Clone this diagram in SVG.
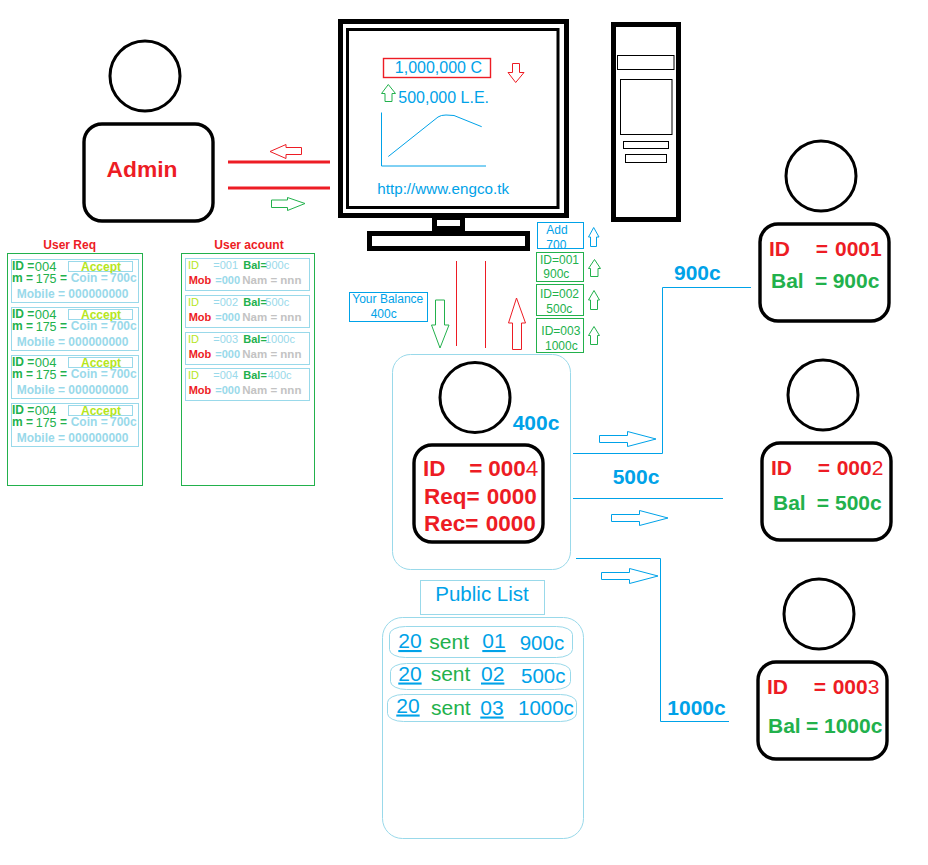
<svg xmlns="http://www.w3.org/2000/svg" width="928" height="865" viewBox="0 0 928 865">
<style>
text{font-family:"Liberation Sans",Arial,sans-serif;white-space:pre}
.b{font-weight:700}.n{font-weight:400}
.red{fill:#ed1c24}.grn{fill:#22b14c}.blu{fill:#00a2e8}.lbl{fill:#99d9ea}.lim{fill:#b5e61d}.gry{fill:#c3c3c3}
.f11{font-size:11px}.f12{font-size:12px}.f16{font-size:16px}.f21{font-size:21px}.f22{font-size:22.5px}.u{text-decoration:underline}
.head{fill:#fff;stroke:#000;stroke-width:3}
.body{fill:#fff;stroke:#000;stroke-width:3.4}
.k5{fill:#fff;stroke:#000;stroke-width:5}
.k1{fill:#fff;stroke:#000;stroke-width:1}
.box{fill:none;stroke-width:1}
.sl{stroke:#99d9ea}.sg{stroke:#22b14c}.sb{stroke:#00a2e8}.sr{stroke:#ed1c24}
.ar{fill:#fff;stroke-width:1}
.ln{fill:none;stroke:#00a2e8;stroke-width:1}
.rl{fill:none;stroke:#ed1c24}
</style>
<rect width="928" height="865" fill="#fff"/>

<g id="admin">
<circle class="head" cx="145" cy="76" r="35"/>
<rect class="body" x="84" y="124" width="129" height="97" rx="18"/>
<text class="b red" style="font-size:22.8px" x="106.5" y="176.5">Admin</text>
</g>

<g id="monitor">
<rect class="k5" x="340.5" y="21.5" width="226" height="194"/>
<rect class="k5" style="stroke-width:3" x="347.5" y="29.5" width="210.5" height="178"/>
<rect x="432" y="218" width="33" height="14" fill="#000"/>
<rect x="437" y="220" width="23" height="6" fill="#fff"/>
<rect class="k5" x="369.5" y="233.5" width="158" height="15"/>
<rect class="box sr" style="stroke-width:1.4" x="383.5" y="58.5" width="107" height="19"/>
<text class="blu f16" x="394.8" y="73">1,000,000 C</text>
<text class="blu f16" x="398.3" y="102.5">500,000 L.E.</text>
<polyline class="ln" points="381.5,112.5 381.5,166 486,166"/>
<path class="ln" d="M388.3 156.5L438 117Q441 115 446 115L454 115.5L481.7 126.7"/>
<text class="blu" style="font-size:15.2px" x="377.3" y="194">http://www.engco.tk</text>
</g>

<g id="tower">
<rect class="k5" x="613.5" y="24.5" width="65" height="195"/>
<rect class="k1" x="617.5" y="55.5" width="56.5" height="14"/>
<rect class="k1" x="620.5" y="79.5" width="51.5" height="55"/>
<rect class="k1" x="623.5" y="141.5" width="45" height="7"/>
<rect class="k1" x="625.5" y="154.5" width="41" height="8"/>
</g>

<g id="connectors">
<line class="rl" stroke-width="3" x1="228" y1="162" x2="330" y2="162"/>
<line class="rl" stroke-width="3" x1="228" y1="188" x2="330" y2="188"/>
<polygon class="ar sr" points="301.5,147.5 286,147.5 286,144.5 270,151.5 286,158.5 286,154.5 301.5,154.5"/>
<polygon class="ar sg" points="271.5,200 287.5,200 287.5,197.5 305,203.5 287.5,210.5 287.5,207.5 271.5,207.5"/>
<line class="rl" stroke-width="1" x1="456.5" y1="261" x2="456.5" y2="346"/>
<line class="rl" stroke-width="1" x1="485.5" y1="261" x2="485.5" y2="348"/>
<polygon class="ar sg" points="435.5,300 444.5,300 444.5,325 449,325 440,348 431.5,325 435.5,325"/>
<polygon class="ar sr" points="516.5,298 525.5,323 521.5,323 521.5,349.5 512.5,349.5 512.5,323 508.5,323"/>
<polygon class="ar sb" points="593.7,227.5 599,237 596.5,237 596.5,246.5 590.5,246.5 590.5,237 588.5,237"/>
<polygon class="ar sg" points="594.5,259.5 600.5,268.5 598,268.5 598,276.5 590.5,276.5 590.5,268.5 588.5,268.5"/>
<polygon class="ar sg" points="594,290.5 599.5,300 597.5,300 597.5,309.5 590.5,309.5 590.5,300 588.5,300"/>
<polygon class="ar sg" points="594,326.5 599.5,335.5 597.5,335.5 597.5,344.5 590.5,344.5 590.5,335.5 588.5,335.5"/>
<polyline class="ln" points="573,453.5 662.5,453.5 662.5,287.5 751,287.5"/>
<line class="ln" x1="573" y1="498.5" x2="723" y2="498.5"/>
<polyline class="ln" points="576,558.5 660.5,558.5 660.5,721.5 729,721.5"/>
<polygon class="ar sb" points="599.5,435.5 627.5,435.5 627.5,431.5 656,439 627.5,446.5 627.5,442.5 599.5,442.5"/>
<polygon class="ar sb" points="611.5,514.5 639.5,514.5 639.5,510.5 668,518 639.5,525.5 639.5,521.5 611.5,521.5"/>
<polygon class="ar sb" points="601.5,572.5 629.5,572.5 629.5,568.5 658,576 629.5,583.5 629.5,579.5 601.5,579.5"/>
<polygon class="ar sr" points="512.5,63.5 519.5,63.5 519.5,72.5 524,72.5 515.7,82.5 508,72.5 512.5,72.5"/>
<polygon class="ar sg" points="388.3,84.5 395.5,93.5 392,93.5 392,101.5 385,101.5 385,93.5 381.5,93.5"/>
</g>

<g id="user-req">
<text class="b red f12" x="43.3" y="249">User Req</text>
<rect class="box sg" x="7.5" y="253.5" width="135" height="232"/>
<g id="req-1">
<rect class="box sl" x="11.5" y="259.5" width="127" height="43"/>
<rect class="box sl" x="68.5" y="261.5" width="64" height="10"/>
<text class="grn f12" x="12" y="270"><tspan class="b">ID =</tspan><tspan x="34.7" style="font-size:13px" y="271">004</tspan></text>
<text class="b lim f12" x="81" y="271">Accept</text>
<text class="grn f12" x="12" y="281.5"><tspan class="b">m =</tspan><tspan x="35.7" style="font-size:12.5px" y="282.5">175</tspan><tspan class="b" x="60" y="281.5">=</tspan></text>
<text class="b lbl f12" x="70.7" y="281.5">Coin =</text>
<text class="b lbl f12" x="110" y="281.5">700c</text>
<text class="b lbl f12" x="16.7" y="298">Mobile = 000000000</text>
</g>
<g id="req-2">
<rect class="box sl" x="11.5" y="307.5" width="127" height="43"/>
<rect class="box sl" x="68.5" y="309.5" width="64" height="10"/>
<text class="grn f12" x="12" y="318"><tspan class="b">ID =</tspan><tspan x="34.7" style="font-size:13px" y="319">004</tspan></text>
<text class="b lim f12" x="81" y="319">Accept</text>
<text class="grn f12" x="12" y="329.5"><tspan class="b">m =</tspan><tspan x="35.7" style="font-size:12.5px" y="330.5">175</tspan><tspan class="b" x="60" y="329.5">=</tspan></text>
<text class="b lbl f12" x="70.7" y="329.5">Coin =</text>
<text class="b lbl f12" x="110" y="329.5">700c</text>
<text class="b lbl f12" x="16.7" y="346">Mobile = 000000000</text>
</g>
<g id="req-3">
<rect class="box sl" x="11.5" y="355.5" width="127" height="43"/>
<rect class="box sl" x="68.5" y="357.5" width="64" height="10"/>
<text class="grn f12" x="12" y="366"><tspan class="b">ID =</tspan><tspan x="34.7" style="font-size:13px" y="367">004</tspan></text>
<text class="b lim f12" x="81" y="367">Accept</text>
<text class="grn f12" x="12" y="377.5"><tspan class="b">m =</tspan><tspan x="35.7" style="font-size:12.5px" y="378.5">175</tspan><tspan class="b" x="60" y="377.5">=</tspan></text>
<text class="b lbl f12" x="70.7" y="377.5">Coin =</text>
<text class="b lbl f12" x="110" y="377.5">700c</text>
<text class="b lbl f12" x="16.7" y="394">Mobile = 000000000</text>
</g>
<g id="req-4">
<rect class="box sl" x="11.5" y="403.5" width="127" height="43"/>
<rect class="box sl" x="68.5" y="405.5" width="64" height="10"/>
<text class="grn f12" x="12" y="414"><tspan class="b">ID =</tspan><tspan x="34.7" style="font-size:13px" y="415">004</tspan></text>
<text class="b lim f12" x="81" y="415">Accept</text>
<text class="grn f12" x="12" y="425.5"><tspan class="b">m =</tspan><tspan x="35.7" style="font-size:12.5px" y="426.5">175</tspan><tspan class="b" x="60" y="425.5">=</tspan></text>
<text class="b lbl f12" x="70.7" y="425.5">Coin =</text>
<text class="b lbl f12" x="110" y="425.5">700c</text>
<text class="b lbl f12" x="16.7" y="442">Mobile = 000000000</text>
</g>
</g>

<g id="user-acount">
<text class="b red f12" x="214.3" y="249">User acount</text>
<rect class="box sg" x="181.5" y="253.5" width="133" height="232"/>
<g id="acc-1">
<rect class="box sl" x="185.5" y="258.5" width="124" height="32"/>
<text class="lim f11" x="188" y="269">ID</text>
<text class="lbl f11" x="213.3" y="269">=001</text>
<text class="b grn f11" x="243.3" y="269">Bal=</text>
<text class="lbl f11" x="265.3" y="269">900c</text>
<text class="b red f11" x="188.7" y="284">Mob</text>
<text class="b lbl f11" x="215.3" y="284">=000</text>
<text class="b gry" style="font-size:11.5px" x="242.3" y="284">Nam = nnn</text>
</g>
<g id="acc-2">
<rect class="box sl" x="185.5" y="295.5" width="124" height="32"/>
<text class="lim f11" x="188" y="306">ID</text>
<text class="lbl f11" x="213.3" y="306">=002</text>
<text class="b grn f11" x="243.3" y="306">Bal=</text>
<text class="lbl f11" x="265.3" y="306">500c</text>
<text class="b red f11" x="188.7" y="321">Mob</text>
<text class="b lbl f11" x="215.3" y="321">=000</text>
<text class="b gry" style="font-size:11.5px" x="242.3" y="321">Nam = nnn</text>
</g>
<g id="acc-3">
<rect class="box sl" x="185.5" y="332.5" width="124" height="32"/>
<text class="lim f11" x="188" y="343">ID</text>
<text class="lbl f11" x="213.3" y="343">=003</text>
<text class="b grn f11" x="243.3" y="343">Bal=</text>
<text class="lbl f11" x="265" y="343">1000c</text>
<text class="b red f11" x="188.7" y="358">Mob</text>
<text class="b lbl f11" x="215.3" y="358">=000</text>
<text class="b gry" style="font-size:11.5px" x="242.3" y="358">Nam = nnn</text>
</g>
<g id="acc-4">
<rect class="box sl" x="185.5" y="368.5" width="124" height="32"/>
<text class="lim f11" x="188" y="379">ID</text>
<text class="lbl f11" x="213.3" y="379">=004</text>
<text class="b grn f11" x="243.3" y="379">Bal=</text>
<text class="lbl f11" x="267.7" y="379">400c</text>
<text class="b red f11" x="188.7" y="394">Mob</text>
<text class="b lbl f11" x="215.3" y="394">=000</text>
<text class="b gry" style="font-size:11.5px" x="242.3" y="394">Nam = nnn</text>
</g>
</g>

<g id="your-balance">
<rect class="box sb" x="349.5" y="292.5" width="78" height="29"/>
<text class="blu f12" x="352.3" y="303.3">Your Balance</text>
<text class="blu f12" x="370.7" y="318.3">400c</text>
</g>
<g id="add">
<text class="blu f12" x="546.3" y="233.7">Add</text>
<text class="blu f12" x="546.3" y="249">700</text>
<rect class="box sb" x="537.5" y="222.5" width="46" height="26"/>
</g>
<g id="tx-1">
<rect class="box sg" x="536.5" y="252.5" width="47" height="29"/>
<text class="grn f12" x="540" y="263.7">ID=001</text>
<text class="grn f12" x="543.3" y="278.3">900c</text>
</g>
<g id="tx-2">
<rect class="box sg" x="536.5" y="284.5" width="47" height="31"/>
<text class="grn f12" x="540" y="297.7">ID=002</text>
<text class="grn f12" x="546.3" y="312.7">500c</text>
</g>
<g id="tx-3">
<rect class="box sg" x="536.5" y="318.5" width="47" height="34"/>
<text class="grn f12" x="541.3" y="334.7">ID=003</text>
<text class="grn f12" x="545" y="349.7">1000c</text>
</g>

<g id="user-4">
<rect class="box sl" x="392.5" y="354.5" width="178" height="215" rx="18"/>
<circle class="head" cx="475" cy="397.5" r="35"/>
<rect class="body" x="414" y="445" width="129" height="97" rx="18"/>
<text class="b blu f21" x="512.7" y="429.5">400c</text>
<text class="b red f22" x="423" y="476">ID<tspan x="469.3">=</tspan><tspan x="488.3">000</tspan><tspan class="n">4</tspan></text>
<text class="b red f22" x="424" y="503.5">Req=<tspan x="486.7">0000</tspan></text>
<text class="b red f22" x="424" y="530.5">Rec=<tspan x="485.7">0000</tspan></text>
</g>

<g id="user-1">
<circle class="head" cx="821" cy="176" r="35"/>
<rect class="body" x="760" y="224" width="129" height="97" rx="18"/>
<text class="b red f21" x="769" y="255.5">ID<tspan x="815.7">=</tspan><tspan x="835">0001</tspan></text>
<text class="b grn f21" x="771" y="287.5">Bal<tspan x="815">=</tspan><tspan x="832.7">900c</tspan></text>
</g>
<text id="label-900" class="b blu f21" x="674" y="279.5">900c</text>

<g id="user-2">
<circle class="head" cx="823" cy="395" r="35"/>
<rect class="body" x="762" y="443" width="129" height="97" rx="18"/>
<text class="b red f21" x="771" y="474.5">ID<tspan x="817.7">=</tspan><tspan x="836.7">000</tspan><tspan class="n">2</tspan></text>
<text class="b grn f21" x="773" y="509.5">Bal<tspan x="816.7">=</tspan><tspan x="835">500c</tspan></text>
</g>
<text id="label-500" class="b blu f21" x="612.7" y="483.5">500c</text>

<g id="user-3">
<circle class="head" cx="819" cy="614" r="35"/>
<rect class="body" x="758" y="662" width="129" height="97" rx="18"/>
<text class="b red f21" x="767" y="693.5">ID<tspan x="813.7">=</tspan><tspan x="832.7">000</tspan><tspan class="n">3</tspan></text>
<text class="b grn f21" x="768" y="733">Bal<tspan x="806">=</tspan><tspan x="824">1000c</tspan></text>
</g>
<text id="label-1000" class="b blu f21" x="667.3" y="715">1000c</text>

<g id="public-list">
<rect class="box sl" x="420.5" y="580.5" width="124" height="34"/>
<text class="blu" style="font-size:20.5px" x="435.3" y="601">Public List</text>
<rect class="box sl" x="382.5" y="617.5" width="201" height="221" rx="20"/>
<rect class="box sl" x="389.5" y="626.5" width="183" height="31" rx="16" ry="8"/>
<rect class="box sl" x="390.5" y="663.5" width="180" height="26" rx="16" ry="8"/>
<rect class="box sl" x="387.5" y="694.5" width="189" height="27" rx="16" ry="8"/>
<text class="blu f21 u" x="398.3" y="648">20</text>
<text class="grn f21" x="429.3" y="649">sent</text>
<text class="blu f21 u" x="482.3" y="648">01</text>
<text class="blu" style="font-size:20.5px" x="519.7" y="649.5">900c</text>
<text class="blu f21 u" x="398.3" y="680.5">20</text>
<text class="grn f21" x="430.7" y="681">sent</text>
<text class="blu f21 u" x="481" y="680.5">02</text>
<text class="blu" style="font-size:20.5px" x="521" y="683">500c</text>
<text class="blu f21 u" x="396.3" y="712.5">20</text>
<text class="grn f21" x="431" y="714.5">sent</text>
<text class="blu f21 u" x="480.3" y="714.5">03</text>
<text class="blu" style="font-size:20.5px" x="518" y="714.5">1000c</text>
</g>
</svg>
